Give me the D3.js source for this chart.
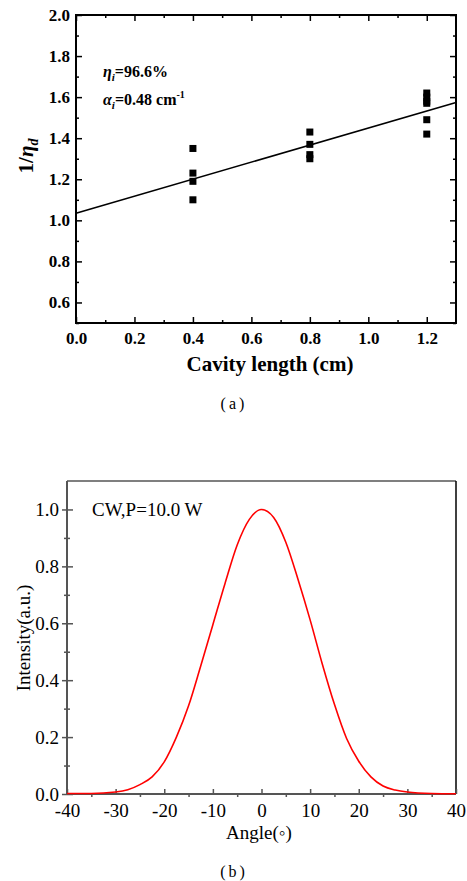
<!DOCTYPE html>
<html lang="en">
<head>
    <meta charset="UTF-8">
    <title>Cavity length and far field</title>
    <script src="https://d3js.org/d3.v7.min.js"></script>
    <style>
        body { margin: 0; background: #fff; }
        svg { display: block; }
        text { font-family: "Liberation Serif", "Times New Roman", serif; fill: #000; }
        .bold text, text.bold { font-weight: bold; }
    </style>
</head>
<body>
    <div id="chart"></div>
    <script>
        const SERIF = "'Liberation Serif', 'Times New Roman', serif";

        // (a) 1/eta_d versus cavity length
        const cavityLen = [0.4, 0.4, 0.4, 0.4, 0.8, 0.8, 0.8, 0.8, 1.2, 1.2, 1.2, 1.2, 1.2, 1.2];
        const invEta = [1.35, 1.23, 1.19, 1.10, 1.43, 1.37, 1.32, 1.30, 1.62, 1.60, 1.58, 1.57, 1.49, 1.42];
        const fitX = [0, 1.3];
        const fitY = [1.035, 1.574];
        const xTicksA = [0, 0.2, 0.4, 0.6, 0.8, 1.0, 1.2];
        const xMinorA = [0.1, 0.3, 0.5, 0.7, 0.9, 1.1];
        const yTicksA = [0.6, 0.8, 1.0, 1.2, 1.4, 1.6, 1.8, 2.0];
        const yMinorA = [0.5, 0.7, 0.9, 1.1, 1.3, 1.5, 1.7, 1.9];

        // (b) far-field intensity versus angle
        const angle = [-40, -35, -30, -27.5, -25, -22.5, -20, -17.5, -15, -12.5, -10, -7.5, -5, -2.5, 0,
                       2.5, 5, 7.5, 10, 12.5, 15, 17.5, 20, 22.5, 25, 27.5, 30, 35, 40];
        const intensity = [0.002, 0.002, 0.007, 0.015, 0.033, 0.06, 0.113, 0.2, 0.31, 0.45, 0.595, 0.74, 0.875, 0.965, 1.0,
                           0.972, 0.885, 0.755, 0.612, 0.457, 0.315, 0.195, 0.115, 0.06, 0.028, 0.014, 0.007, 0.002, 0.001];
        const xTicksB = [-40, -30, -20, -10, 0, 10, 20, 30, 40];
        const xMinorB = [-35, -25, -15, -5, 5, 15, 25, 35];
        const yTicksB = [0.0, 0.2, 0.4, 0.6, 0.8, 1.0];
        const yMinorB = [0.1, 0.3, 0.5, 0.7, 0.9];

        const W = 467, H = 881;
        const svg = d3.select("#chart").append("svg")
            .attr("width", W)
            .attr("height", H)
            .attr("font-family", SERIF);

        function styleAxis(g, color, width) {
            g.attr("font-family", SERIF);
            g.selectAll(".domain").remove();
            g.selectAll(".tick line").attr("stroke", color).attr("stroke-width", width);
            g.selectAll(".tick text").attr("font-family", SERIF).attr("fill", "#000");
        }

        // ---------- panel (a) ----------
        const pa = { left: 76, right: 456, top: 15, bottom: 323 };
        const xA = d3.scaleLinear().domain([0, 1.3]).range([pa.left, pa.right]);
        const yA = d3.scaleLinear().domain([0.5, 2.0]).range([pa.bottom, pa.top]);

        const gA = svg.append("g");

        // minor ticks (inward)
        gA.append("g").attr("transform", `translate(0,${pa.bottom})`)
            .call(d3.axisBottom(xA).tickValues(xMinorA).tickSize(-3).tickFormat(""))
            .call(g => styleAxis(g, "#000", 1.5));
        gA.append("g").attr("transform", `translate(0,${pa.top})`)
            .call(d3.axisTop(xA).tickValues(xMinorA).tickSize(-3).tickFormat(""))
            .call(g => styleAxis(g, "#000", 1.5));
        gA.append("g").attr("transform", `translate(${pa.left},0)`)
            .call(d3.axisLeft(yA).tickValues(yMinorA).tickSize(-3).tickFormat(""))
            .call(g => styleAxis(g, "#000", 1.5));
        gA.append("g").attr("transform", `translate(${pa.right},0)`)
            .call(d3.axisRight(yA).tickValues(yMinorA).tickSize(-3).tickFormat(""))
            .call(g => styleAxis(g, "#000", 1.5));

        // major ticks with labels
        gA.append("g").attr("class", "bold").attr("transform", `translate(0,${pa.bottom})`)
            .call(d3.axisBottom(xA).tickValues(xTicksA).tickSize(-6).tickPadding(9).tickFormat(d3.format(".1f")))
            .call(g => styleAxis(g, "#000", 1.5))
            .call(g => g.selectAll("text").attr("font-size", 17).attr("font-weight", "bold"));
        gA.append("g").attr("class", "bold").attr("transform", `translate(${pa.left},0)`)
            .call(d3.axisLeft(yA).tickValues(yTicksA).tickSize(-6).tickPadding(6).tickFormat(d3.format(".1f")))
            .call(g => styleAxis(g, "#000", 1.5))
            .call(g => g.selectAll("text").attr("font-size", 17).attr("font-weight", "bold"));
        gA.append("g").attr("transform", `translate(0,${pa.top})`)
            .call(d3.axisTop(xA).tickValues(xTicksA).tickSize(-6).tickFormat(""))
            .call(g => styleAxis(g, "#000", 1.5));
        gA.append("g").attr("transform", `translate(${pa.right},0)`)
            .call(d3.axisRight(yA).tickValues(yTicksA).tickSize(-6).tickFormat(""))
            .call(g => styleAxis(g, "#000", 1.5));

        // frame
        gA.append("rect")
            .attr("x", pa.left).attr("y", pa.top)
            .attr("width", pa.right - pa.left).attr("height", pa.bottom - pa.top)
            .attr("fill", "none").attr("stroke", "#000").attr("stroke-width", 2);

        // fit line
        const fitLine = d3.line().x(d => xA(d[0])).y(d => yA(d[1]));
        gA.append("path")
            .datum(d3.zip(fitX, fitY))
            .attr("d", fitLine)
            .attr("fill", "none")
            .attr("stroke", "#000")
            .attr("stroke-width", 1.6);

        // data squares
        const sq = 7;
        gA.selectAll(".pt")
            .data(d3.zip(cavityLen, invEta))
            .enter()
            .append("rect")
            .attr("class", "pt")
            .attr("x", d => xA(d[0]) - sq / 2)
            .attr("y", d => yA(d[1]) - sq / 2)
            .attr("width", sq)
            .attr("height", sq)
            .attr("fill", "#000");

        // annotations
        const ann1 = gA.append("text").attr("class", "bold").attr("x", 103).attr("y", 77).attr("font-size", 16);
        ann1.append("tspan").attr("font-style", "italic").text("η");
        ann1.append("tspan").attr("font-style", "italic").attr("font-size", 11).attr("dy", 4).text("i");
        ann1.append("tspan").attr("dy", -4).text("=96.6%");

        const ann2 = gA.append("text").attr("class", "bold").attr("x", 103).attr("y", 105).attr("font-size", 16);
        ann2.append("tspan").attr("font-style", "italic").text("α");
        ann2.append("tspan").attr("font-style", "italic").attr("font-size", 11).attr("dy", 4).text("i");
        ann2.append("tspan").attr("dy", -4).text("=0.48 cm");
        ann2.append("tspan").attr("font-size", 10).attr("dy", -7).text("-1");

        // axis titles
        gA.append("text").attr("class", "bold")
            .attr("x", 270).attr("y", 371)
            .attr("text-anchor", "middle").attr("font-size", 21)
            .text("Cavity length (cm)");

        const yTitleA = gA.append("text").attr("class", "bold")
            .attr("transform", "translate(33,156) rotate(-90)")
            .attr("text-anchor", "middle").attr("font-size", 21);
        yTitleA.append("tspan").text("1/");
        yTitleA.append("tspan").attr("font-style", "italic").text("η");
        yTitleA.append("tspan").attr("font-style", "italic").attr("font-size", 14).attr("dy", 5).text("d");

        svg.append("text")
            .attr("x", 234).attr("y", 409)
            .attr("text-anchor", "middle").attr("font-size", 16)
            .attr("letter-spacing", 3)
            .text("(a)");

        // ---------- panel (b) ----------
        const pb = { left: 67, right: 456, top: 481, bottom: 794 };
        const xB = d3.scaleLinear().domain([-40, 40]).range([pb.left, pb.right]);
        const yB = d3.scaleLinear().domain([0, 1.1]).range([pb.bottom, pb.top]);
        const grey = "#555";

        const gB = svg.append("g");

        // frame: grey on left/top/bottom, black on right
        gB.append("line").attr("x1", pb.left).attr("x2", pb.right).attr("y1", pb.top).attr("y2", pb.top)
            .attr("stroke", grey).attr("stroke-width", 1.5);
        gB.append("line").attr("x1", pb.right).attr("x2", pb.right).attr("y1", pb.top).attr("y2", pb.bottom)
            .attr("stroke", "#000").attr("stroke-width", 1.5);

        // x minor ticks point out, majors point in
        gB.append("g").attr("transform", `translate(0,${pb.bottom})`)
            .call(d3.axisBottom(xB).tickValues(xMinorB).tickSize(3).tickFormat(""))
            .call(g => styleAxis(g, grey, 1.5));
        gB.append("g").attr("transform", `translate(0,${pb.bottom})`)
            .call(d3.axisBottom(xB).tickValues(xTicksB).tickSize(-5).tickPadding(10).tickFormat(d => String(d)))
            .call(g => styleAxis(g, grey, 1.5))
            .call(g => g.selectAll("text").attr("font-size", 19));

        // y ticks cross the axis
        gB.append("g").attr("transform", `translate(${pb.left},0)`)
            .call(d3.axisLeft(yB).tickValues(yMinorB).tickSize(3).tickFormat(""))
            .call(g => styleAxis(g, grey, 1.5));
        gB.append("g").attr("transform", `translate(${pb.left},0)`)
            .call(d3.axisRight(yB).tickValues(yMinorB).tickSize(3).tickFormat(""))
            .call(g => styleAxis(g, grey, 1.5));
        gB.append("g").attr("transform", `translate(${pb.left},0)`)
            .call(d3.axisRight(yB).tickValues(yTicksB).tickSize(6).tickFormat(""))
            .call(g => styleAxis(g, grey, 1.5));
        gB.append("g").attr("transform", `translate(${pb.left},0)`)
            .call(d3.axisLeft(yB).tickValues(yTicksB).tickSize(5).tickPadding(3).tickFormat(d3.format(".1f")))
            .call(g => styleAxis(g, grey, 1.5))
            .call(g => g.selectAll("text").attr("font-size", 19));

        gB.append("line").attr("x1", pb.left).attr("x2", pb.right).attr("y1", pb.bottom).attr("y2", pb.bottom)
            .attr("stroke", grey).attr("stroke-width", 2);
        gB.append("line").attr("x1", pb.left).attr("x2", pb.left).attr("y1", pb.top).attr("y2", pb.bottom)
            .attr("stroke", grey).attr("stroke-width", 2);

        // profile curve
        const curve = d3.line()
            .x(d => xB(d[0]))
            .y(d => yB(d[1]))
            .curve(d3.curveMonotoneX);
        gB.append("path")
            .datum(d3.zip(angle, intensity))
            .attr("d", curve)
            .attr("fill", "none")
            .attr("stroke", "#ff0000")
            .attr("stroke-width", 1.6);

        gB.append("text")
            .attr("x", 92).attr("y", 516)
            .attr("font-size", 19)
            .text("CW,P=10.0 W");

        gB.append("text")
            .attr("x", 259).attr("y", 839)
            .attr("text-anchor", "middle").attr("font-size", 19)
            .text("Angle(◦)");

        gB.append("text")
            .attr("transform", "translate(30,638) rotate(-90)")
            .attr("text-anchor", "middle").attr("font-size", 19)
            .text("Intensity(a.u.)");

        svg.append("text")
            .attr("x", 234).attr("y", 877)
            .attr("text-anchor", "middle").attr("font-size", 16)
            .attr("letter-spacing", 3)
            .text("(b)");
    </script>
</body>
</html>
